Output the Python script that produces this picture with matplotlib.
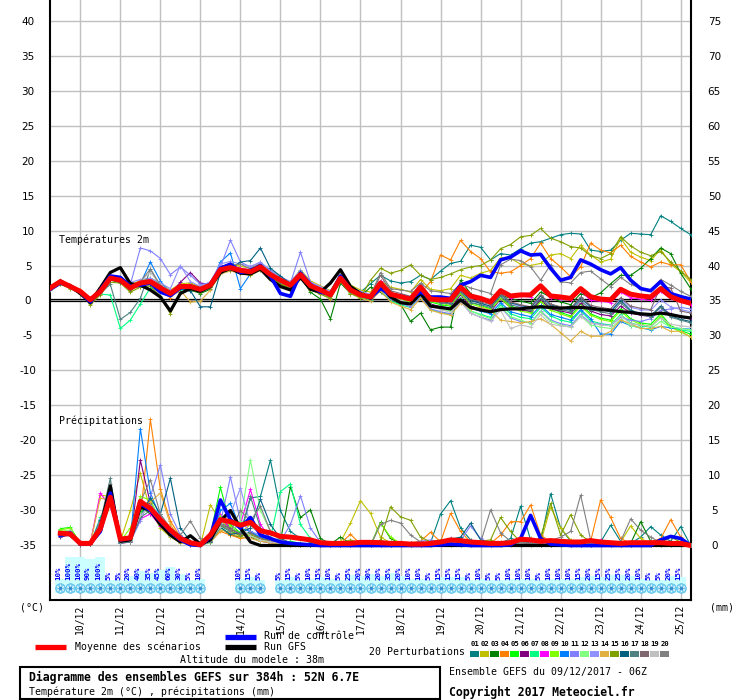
import numpy as np
import matplotlib
matplotlib.use('Agg')
import matplotlib.pyplot as plt
from matplotlib.lines import Line2D
from matplotlib.patches import Rectangle

# ---------------- data ----------------
lead_hours = list(range(0, 385, 6))
date_labels = ['10/12', '11/12', '12/12', '13/12', '14/12', '15/12', '16/12', '17/12',
               '18/12', '19/12', '20/12', '21/12', '22/12', '23/12', '24/12', '25/12']
date_hours = [18, 42, 66, 90, 114, 138, 162, 186, 210, 234, 258, 282, 306, 330, 354, 378]
left_ticks = [40, 35, 30, 25, 20, 15, 10, 5, 0, -5, -10, -15, -20, -25, -30, -35]
left_labels = ['40', '35', '30', '25', '20', '15', '10', '5', '0', '-5', '-10', '-15', '-20', '-25', '-30', '-35']
right_labels = ['75', '70', '65', '60', '55', '50', '45', '40', '35', '30', '25', '20', '15', '10', '5', '0']
precip_zero_level = -35

member_names = ['01', '02', '03', '04', '05', '06', '07', '08', '09', '10',
                '11', '12', '13', '14', '15', '16', '17', '18', '19', '20']
member_colors = ['#008080', '#c0c000', '#008000', '#ff8000', '#00ff00', '#800080', '#00ff80', '#ff00ff',
                 '#80ff00', '#0080ff', '#8080ff', '#80ff80', '#9090ff', '#e0b040', '#80a000', '#006080',
                 '#508080', '#806870', '#c0c0c0', '#808080']

mean_t = [1.8,2.7,2.0,1.3,0.1, 1.3,3.2,2.9,1.8,2.5, 2.7,1.8,1.0,2.0,2.0, 1.6,2.2,4.4,4.7,4.3, 4.1,4.8,3.7,2.9,2.2, 3.7,2.1,1.5,0.8,3.2, 1.5,0.8,0.5,
          2.5,0.9,0.55,0.2,1.9, 0.2,0.1,0.1,1.9,0.65, 0.3,-0.2,1.4,0.65,0.8, 0.8,2.1,0.65,0.5,0.3, 1.7,0.55,0.2,0.1,1.6, 0.9,0.65,0.5,1.7,0.55, 0.0,-0.4]
ctrl_t = [1.6,2.5,2.1,1.2,-0.2, 1.5,3.5,3.3,2.0,2.2, 2.5,1.2,0.7,1.8,2.1, 1.5,2.3,4.6,5.2,4.0, 4.3,5.0,3.5,1.0,0.6, 3.9,2.3,1.2,0.9,3.5, 1.5,0.9,0.4,
          1.7,0.9,0.6,0.3,1.2, 0.5,0.5,0.3,2.2,2.7, 3.6,3.3,5.8,6.2,7.1, 6.5,6.6,4.6,2.9,3.3, 5.8,5.2,4.4,3.8,4.7, 2.9,1.7,1.4,2.7,1.0, 0.55,0.2]
gfs_t = [1.7,2.8,2.0,1.0,-0.3, 1.8,4.0,4.7,2.4,2.2, 1.5,0.5,-1.5,1.0,1.7, 1.3,2.0,4.0,4.6,3.9, 3.8,4.5,3.0,2.0,1.5, 3.3,1.6,1.2,2.5,4.4, 2.0,1.0,0.3,
         2.2,0.5,-0.3,-0.5,1.0, -0.8,-1.0,-1.2,0.1,-1.0, -1.35,-1.6,-1.3,-1.2,-1.2, -1.0,-0.9,-1.0,-1.1,-1.0, -1.0,-1.1,-1.3,-1.4,-1.6, -1.7,-1.9,-2.0,-1.8,-2.0, -2.3,-2.5]

t01 = [1.7,2.6,1.9,1.2,-0.3, 1.0,3.0,2.7,1.5,2.6, 3.0,2.2,1.2,2.3,2.2, 1.5,2.0,4.2,4.9,4.6, 4.3,5.2,4.0,3.1,2.6, 4.2,2.4,1.8,1.0,3.6, 1.9,1.2,2.4,
       3.6,2.8,2.5,2.7,3.6, 3.0,4.2,5.3,5.6,7.9, 7.6,5.8,6.7,6.5,7.4, 8.2,8.4,8.9,9.4,9.6, 9.5,7.2,7.0,7.2,8.6, 9.6,9.5,9.4,12.1,11.3, 10.3,9.4]
t02 = [1.9,2.8,2.1,1.4,0.3, 1.6,3.6,3.4,2.3,2.8, 3.2,2.4,1.5,2.4,2.5, 2.0,2.6,4.8,5.3,4.9, 4.6,5.3,4.2,3.3,2.6, 4.4,2.8,2.1,1.4,3.8, 2.2,1.5,1.2,
       2.8,1.9,1.6,1.2,3.0, 1.6,1.4,1.7,3.6,3.2, 3.9,4.3,6.1,6.0,5.2, 5.0,5.3,6.5,6.7,6.0, 7.9,6.5,5.5,5.9,8.9, 6.9,6.2,5.7,7.3,5.2, 4.1,2.6]
t03 = [1.6,2.5,1.8,1.1,-0.4, 1.0,2.9,2.6,1.6,2.2, 2.6,1.6,0.6,1.6,1.5, 1.0,1.6,4.0,4.3,4.0, 3.8,4.5,3.3,2.4,1.6, 3.4,1.2,0.2,-2.6,2.5, 1.0,0.6,1.9,
       1.2,0.1,-0.5,-3.0,-1.8, -4.2,-3.8,-3.8,2.9,1.0, 0.2,-0.5,0.8,0.3,-0.1, -0.4,1.2,0.5,-0.2,-0.6, 1.0,0.4,1.1,2.4,3.6, 3.6,4.6,6.0,7.5,6.7, 3.9,1.7]
t04 = [1.8,2.9,2.2,1.5,0.2, 1.9,3.4,2.8,1.4,2.3, 2.4,1.5,0.4,1.9,2.0, 1.9,2.6,4.5,4.6,4.1, 3.9,4.7,3.5,2.5,1.9, 3.4,1.8,1.3,0.6,3.0, 1.2,0.6,0.0,
       1.8,0.5,0.7,0.2,1.0, 2.7,6.5,5.8,8.6,7.0, 6.0,4.1,3.9,4.1,5.0, 6.0,8.2,6.0,4.8,3.4, 4.8,8.2,7.2,6.8,7.9, 6.3,5.5,4.8,5.5,5.1, 5.1,2.7]
t05 = [1.7,2.6,2.0,1.3,0.0, 1.2,3.1,2.8,1.9,2.6, 2.8,2.0,1.3,2.1,2.3, 1.8,2.4,4.6,4.9,4.4, 4.2,4.9,3.8,3.0,2.3, 3.9,2.2,1.6,1.0,3.3, 1.6,1.0,0.7,
       2.3,0.8,0.3,-0.3,1.5, -0.2,-0.6,-0.8,1.2,-0.3, -0.7,-1.2,0.6,-0.8,-1.3, -1.6,0.0,-1.1,-1.7,-2.2, -0.5,-1.9,-2.5,-2.8,-1.2, -2.6,-3.2,-3.4,-1.9,-3.6, -4.3,-4.8]
t06 = [1.8,2.7,2.0,1.2,0.0, 1.4,3.3,3.0,1.7,2.4, 2.9,2.1,1.0,2.6,4.0, 2.5,2.3,4.9,5.1,4.5, 4.2,4.9,3.6,2.8,2.0, 3.6,2.0,1.4,0.7,3.1, 1.3,0.7,0.3,
       2.0,0.6,0.1,-0.4,1.4, -0.5,-0.9,-1.1,0.8,-0.8, -1.2,-1.6,0.2,-1.0,-1.4, -1.5,0.1,-1.2,-1.5,-1.8, -0.4,-1.5,-2.0,-2.2,-0.8, -1.8,-2.1,-2.3,-0.9,-2.0, -2.4,-2.6]
t07 = [1.7,2.6,1.9,1.2,0.2, 0.9,0.8,-4.0,-2.8,-0.5, 1.8,1.3,0.8,1.5,1.8, 1.4,1.9,4.3,4.6,4.1, 3.9,4.6,3.4,2.6,1.9, 3.5,1.8,1.1,0.4,2.9, 1.1,0.4,0.1,
       1.5,-0.1,-0.6,-1.0,0.6, -1.3,-1.7,-2.0,0.0,-1.5, -2.0,-2.4,-0.6,-1.9,-2.4, -2.6,-1.0,-2.2,-2.8,-3.1, -1.5,-2.9,-3.3,-3.5,-2.0, -3.2,-3.6,-3.8,-2.4,-3.9, -4.2,-4.4]
t08 = [1.8,2.7,2.1,1.4,0.3, 1.5,3.4,3.1,2.0,2.7, 3.0,2.2,1.3,2.2,2.1, 1.7,2.3,4.8,5.0,4.6, 4.4,5.0,3.9,3.1,2.4, 4.0,2.3,1.7,1.1,3.4, 1.7,1.1,0.8,
       2.8,1.0,0.7,0.3,2.1, 0.4,0.2,0.2,1.9,0.5, 0.2,-0.3,1.5,0.3,0.6, 0.5,2.0,0.4,0.2,0.1, 1.4,0.0,-0.1,-0.3,1.2, 0.4,0.2,0.0,1.3,0.3, -0.2,-0.6]
t09 = [1.6,2.6,2.0,1.3,0.1, 1.3,3.2,3.0,2.0,2.5, 2.6,1.8,1.2,2.1,2.0, 1.8,2.5,4.6,4.7,4.2, 4.0,4.8,3.7,2.9,2.1, 3.6,2.0,1.5,0.9,3.2, 1.4,0.7,0.4,
       2.1,0.7,0.2,-0.2,1.5, -0.1,-0.4,-0.7,1.0,-0.5, -0.9,-1.3,0.3,-1.0,-1.5, -1.8,-0.2,-1.4,-1.9,-2.4, -0.8,-2.1,-2.7,-3.0,-1.5, -2.8,-3.4,-3.7,-2.2,-3.8, -4.5,-5.2]
t10 = [1.7,2.6,2.0,1.2,-0.1, 1.2,3.1,3.0,1.8,2.4, 5.5,2.8,1.0,1.9,1.9, 1.6,2.2,5.5,6.8,1.7, 3.8,4.6,3.5,2.8,2.1, 3.7,2.1,1.5,0.8,3.1, 1.4,0.7,0.3,
       1.9,0.4,-0.1,-0.5,1.0, -0.7,-1.0,-1.3,0.4,-1.1, -1.5,-1.9,-0.3,-1.6,-2.0, -2.3,-0.7,-2.0,-2.4,-2.8, -1.3,-2.6,-4.8,-4.8,-3.0, -3.6,-3.9,-4.2,-3.7,-3.9, -4.0,-4.1]
t11 = [1.8,2.6,1.9,1.3,0.0, 1.4,3.3,3.0,2.3,7.5, 7.1,6.0,3.7,4.8,3.6, 2.3,2.5,4.8,8.6,5.5, 4.8,5.5,4.2,3.2,2.5, 6.9,2.6,1.8,1.2,3.7, 1.8,1.0,0.6,
       1.6,0.2,-0.4,-0.9,0.5, -1.2,-1.6,-1.9,-0.2,-1.8, -2.4,-2.8,-1.0,-2.5,-3.0, -3.2,-1.5,-2.8,-3.3,-3.6, -2.0,-3.2,-3.4,-3.6,-2.4, -2.8,-3.0,-2.6,-1.4,-1.2, -1.0,-1.2]
t12 = [1.7,2.7,2.0,1.3,0.1, 1.4,3.2,2.9,1.9,2.4, 2.6,1.7,1.1,1.9,1.9, 1.5,2.1,4.3,4.6,4.2, 4.0,4.7,3.6,2.8,2.1, 3.6,2.0,1.4,0.7,3.1, 1.4,0.7,0.4,
       2.0,0.5,0.0,-0.4,1.2, -0.6,-1.2,-1.5,0.3,-1.5, -2.1,-2.6,-0.9,-2.3,-2.8, -3.3,-1.6,-3.0,-3.5,-3.8, -2.2,-3.5,-3.8,-4.0,-2.7, -3.6,-3.9,-4.1,-3.0,-3.8, -4.0,-4.2]
t13 = [1.9,2.8,2.1,1.4,0.2, 1.6,3.5,3.2,2.6,3.0, 3.2,2.5,1.7,5.0,2.7, 2.0,2.7,5.2,5.6,5.2, 4.9,5.4,4.4,3.4,2.7, 4.3,2.6,2.0,1.3,3.6, 1.9,1.3,0.9,
       2.6,1.1,0.8,0.4,2.2, 0.2,-0.3,-0.5,1.4,0.0, -0.4,-0.9,0.9,-0.4,-0.8, -1.1,0.6,-0.7,-1.1,-1.4, 0.3,-1.0,-1.3,-1.5,0.2, -1.0,-1.3,-1.4,0.1,-0.9, -1.3,-1.6]
t14 = [1.6,2.4,1.8,1.1,-0.5, 1.0,3.0,2.7,1.6,2.0, 2.3,1.4,0.6,1.4,-0.2, -0.1,1.5,3.8,4.2,3.9, 3.6,4.3,3.2,2.3,1.5, 3.2,1.6,1.0,0.2,2.8, 1.0,0.3,-0.1,
       1.4,-0.2,-0.8,-1.3,0.3, -1.4,-1.8,-2.1,-0.4,-1.2, -1.0,-1.4,-2.8,-3.0,-3.2, -3.0,-2.6,-3.4,-4.6,-5.8, -4.4,-5.1,-5.1,-4.4,-2.8, -3.3,-4.0,-4.0,-3.7,-4.4, -4.4,-5.2]
t15 = [1.5,2.3,1.7,1.0,-0.6, 0.8,2.6,2.5,1.2,1.9, 2.1,0.6,-1.9,1.2,1.5, 1.2,1.9,4.0,4.4,3.9, 3.6,4.4,3.3,2.4,1.7, 3.5,1.5,0.9,0.3,2.9, 1.0,0.4,2.9,
       4.6,3.9,4.3,5.1,3.6, 3.0,3.3,3.8,4.4,4.8, 5.0,5.8,7.4,8.0,9.1, 9.3,10.3,8.9,8.4,7.7, 7.5,6.4,6.0,6.7,9.1, 7.8,6.9,6.4,7.0,5.5, 4.2,3.0]
t16 = [1.7,2.5,1.9,1.2,-0.2, 1.2,3.0,2.6,1.7,2.3, 2.4,1.5,0.8,1.7,1.4, -0.9,-0.9,4.0,4.5,5.5, 5.7,7.5,4.6,3.5,2.4, 4.1,2.2,1.5,0.9,3.4, 1.6,0.9,0.5,
       2.2,0.8,0.4,0.0,1.8, 0.2,-0.1,-0.4,1.5,0.0, -0.4,-0.8,0.9,-0.3,-0.7, -1.0,0.7,-0.6,-1.0,-1.3, 0.4,-0.9,-1.3,-1.6,0.0, -1.4,-1.9,-2.2,-0.8,-2.2, -2.7,-3.0]
t17 = [1.8,2.6,1.9,1.2,-0.1, 1.1,2.3,-2.7,-1.7,0.3, 4.5,2.0,1.0,1.7,1.9, 1.5,2.0,4.1,4.5,4.2, 4.0,4.6,3.5,2.6,2.0, 3.4,1.9,1.3,0.6,3.0, 1.3,0.6,0.2,
       2.4,1.0,0.5,0.1,1.6, 0.0,-0.3,-0.5,1.2,-0.3, -0.6,-1.0,0.6,-0.6,-1.0, -1.3,0.3,-0.9,-1.3,-1.6, 0.0,-1.3,-1.6,-1.9,-0.3, -1.6,-2.0,-2.3,-1.0,-2.4, -2.8,-3.2]
t18 = [1.8,2.8,2.1,1.4,0.1, 1.5,3.4,3.1,2.0,2.6, 2.8,1.9,1.1,2.0,2.1, 1.7,2.4,4.5,4.8,4.4, 4.2,4.9,3.8,3.0,2.3, 3.8,2.2,1.6,0.9,3.3, 1.6,0.9,0.6,
       3.6,1.4,1.0,0.6,2.4, 0.5,0.2,-0.1,1.6,0.2, -0.2,-0.6,1.0,-0.2,-0.6, -0.9,0.8,-0.5,-0.9,-1.1, 0.5,-0.7,-1.0,-1.2,0.4, -0.8,-1.1,-1.3,2.0,1.8, -1.5,-1.8]
t19 = [1.7,2.6,2.0,1.3,0.0, 1.3,3.3,3.2,2.1,2.8, 4.0,2.3,1.2,2.0,2.1, 1.7,2.2,4.4,4.8,4.4, 4.3,4.9,3.9,3.1,2.4, 3.8,2.2,1.6,1.0,3.3, 1.6,0.9,0.6,
       2.1,0.5,0.0,-0.5,1.0, -0.8,-1.3,-1.7,-0.1,-1.8, -2.4,-3.0,-1.4,-4.0,-3.5, -3.8,-2.0,-3.4,-3.6,-3.8, -2.3,-3.2,-3.5,-3.6,-2.2, -3.3,-3.5,-3.7,-2.5,-3.4, -3.6,-3.8]
t20 = [1.8,2.7,2.1,1.4,0.2, 1.4,3.3,3.0,2.1,2.7, 4.5,2.2,1.1,2.1,2.2, 1.8,2.5,4.7,5.0,5.2, 4.5,5.0,3.8,3.0,2.3, 3.8,2.2,1.6,0.9,3.5, 1.7,1.0,0.7,
       4.0,1.7,1.5,1.3,2.5, 1.4,1.2,1.0,2.4,1.8, 1.4,1.0,5.1,5.9,5.7, 4.8,2.9,5.1,2.7,2.5, 4.0,4.2,3.1,2.0,3.3, 2.3,1.8,1.5,3.0,2.2, 1.3,0.6]

mean_p = [None, 1.75,1.65,0.3,0.3, 2.4,6.9,0.9,1.1,6.3, 5.3,3.7,2.2,1.0,0.4, 0.1,1.5,3.7,3.4,2.9, 3.3,2.1,1.8,1.3,1.2, 1.0,0.8,0.4,0.3,0.3, 0.3,0.45,0.45,
          0.4,0.3,0.3,0.2,0.2, 0.3,0.5,0.8,0.7,0.5, 0.4,0.3,0.3,0.4,0.9, 0.8,0.6,0.7,0.6,0.5, 0.5,0.7,0.5,0.4,0.3, 0.4,0.4,0.4,0.4,0.3, 0.3,0.0]
ctrl_p = [None, 1.5,1.8,0.2,0.3, 2.0,7.5,0.8,1.0,6.0, 5.0,3.5,2.0,0.8,0.1, 0.0,1.2,6.5,3.7,2.5, 4.0,1.5,1.0,0.5,0.3, 0.2,0.1,0.0,0.0,0.0, 0.0,0.0,0.0,
          0.0,0.0,0.0,0.0,0.0, 0.0,0.1,0.2,0.1,0.0, 0.0,0.0,0.0,0.1,1.0, 4.3,1.0,0.2,0.1,0.0, 0.0,0.0,0.0,0.0,0.0, 0.0,0.0,0.0,0.8,1.3, 1.0,0.0]
gfs_p = [None, 1.8,1.5,0.2,0.3, 2.5,8.5,0.6,0.8,5.5, 5.0,3.0,1.5,0.5,1.4, 0.2,0.8,3.5,5.0,2.5, 0.5,0.0,0.0,0.0,0.0, 0.0,0.0,0.0,0.0,0.0, 0.0,0.0,0.0,
         0.0,0.0,0.0,0.0,0.0, 0.0,0.0,0.0,0.0,0.0, 0.0,0.0,0.0,0.0,0.0, 0.0,0.0,0.0,0.0,0.0, 0.0,0.0,0.0,0.0,0.0, 0.0,0.0,0.0,0.0,0.0, 0.0,0.0]

p01 = [None, 1.6,1.9,0.2,0.2, 3.5,7.5,0.5,0.7,5.0, 6.0,3.0,1.5,0.5,0.1, 0.0,0.8,2.8,2.0,1.5, 6.8,7.0,12.2,5.0,2.0, 1.0,0.5,0.2,0.0,0.0, 0.0,0.2,0.3,
       0.6,0.3,0.2,0.1,0.2, 0.4,4.5,6.4,2.5,0.8, 0.4,0.2,0.3,1.0,5.6, 0.8,0.5,7.4,2.5,0.6, 0.3,0.8,0.5,2.9,0.6, 0.3,1.2,2.7,1.5,0.6, 2.7,0.0]
p02 = [None, 2.0,2.2,0.3,0.3, 7.2,7.0,0.6,5.0,10.3, 5.0,2.5,1.2,0.4,0.1, 0.0,5.8,3.5,2.5,1.8, 3.0,1.5,1.0,0.5,0.3, 0.2,0.1,0.0,0.0,0.5, 3.2,6.4,4.6,
       1.2,0.4,0.2,0.0,0.1, 0.2,0.3,0.5,0.4,0.2, 0.1,0.3,0.5,0.3,0.8, 1.0,0.4,5.5,2.5,0.8, 0.3,0.3,0.2,0.4,0.5, 2.8,1.0,0.3,0.2,0.1, 0.2,0.0]
p03 = [None, 1.7,1.8,0.2,0.3, 2.5,6.2,0.4,0.6,5.5, 4.5,3.8,2.0,0.8,0.2, 0.1,0.8,2.5,1.5,1.2, 2.0,1.0,0.8,0.6,8.4, 4.0,5.1,1.0,0.2,1.2, 0.3,0.0,0.0,
       3.3,1.0,0.3,0.1,0.0, 0.0,0.2,0.1,0.0,0.0, 0.0,0.1,0.2,0.0,0.0, 0.1,0.0,0.2,0.0,0.0, 0.1,0.0,0.0,0.0,0.2, 0.3,3.4,0.6,0.2,0.3, 0.0,0.0]
p04 = [None, 1.8,2.0,0.3,0.3, 3.0,6.8,0.7,0.9,4.0, 18.0,8.0,3.5,1.2,0.3, 0.1,0.5,2.0,1.5,1.0, 1.2,0.8,0.6,0.3,0.2, 0.1,0.0,0.0,0.0,0.3, 1.6,0.2,0.1,
       0.1,0.0,0.2,0.4,0.6, 1.9,0.5,4.6,2.0,0.5, 0.2,0.3,1.5,3.4,3.4, 5.8,1.5,0.5,0.3,0.2, 0.4,0.6,6.5,4.0,1.0, 0.3,0.2,0.5,1.0,3.7, 1.2,0.0]
p05 = [None, 2.4,2.6,0.3,0.4, 2.8,6.0,0.5,0.8,4.8, 5.5,3.0,1.5,0.6,0.2, 0.0,1.5,8.3,3.0,1.8, 1.5,0.8,0.5,0.4,0.6, 0.3,0.2,0.0,0.0,0.2, 0.1,0.0,0.0,
       0.4,0.3,0.1,0.0,0.1, 0.2,0.3,0.5,0.3,0.1, 0.0,0.0,0.1,0.2,0.3, 0.2,0.1,0.1,0.0,0.0, 0.0,0.1,0.2,0.1,0.0, 0.0,0.1,0.0,0.2,0.1, 0.0,0.0]
p06 = [None, 1.2,1.5,0.1,0.2, 3.5,7.2,0.3,0.5,12.2, 6.0,3.5,1.8,0.6,0.1, 0.0,0.6,4.0,2.5,1.6, 1.2,0.6,0.4,0.2,0.1, 0.1,0.0,0.0,0.0,0.0, 0.1,0.0,0.0,
       0.2,0.1,0.0,0.3,0.5, 0.3,0.2,0.8,0.6,0.3, 0.2,0.1,0.2,0.4,0.3, 0.2,0.1,0.0,0.1,0.0, 0.0,0.0,0.1,0.2,0.0, 0.0,0.1,0.0,0.0,0.0, 0.0,0.0]
p07 = [None, 1.6,1.9,0.2,0.2, 4.0,6.5,0.4,0.6,6.5, 5.0,3.2,1.7,0.8,0.2, 0.0,0.6,3.0,2.0,1.5, 1.8,1.2,1.0,7.7,8.8, 3.0,1.0,0.3,0.0,0.1, 0.0,0.0,0.0,
       0.3,0.2,0.1,0.0,0.2, 0.3,0.6,0.9,0.5,0.2, 0.1,0.0,0.1,0.3,0.4, 0.2,0.1,0.2,0.1,0.0, 0.0,0.1,0.3,0.2,0.1, 0.0,0.0,0.1,0.0,0.0, 0.1,0.0]
p08 = [None, 1.5,1.7,0.2,0.3, 7.5,5.5,0.8,0.6,3.8, 4.5,2.8,1.4,0.5,0.1, 0.0,0.5,4.5,2.2,3.0, 8.0,3.0,1.0,0.4,0.2, 0.1,0.0,0.0,0.0,0.0, 0.1,0.0,0.0,
       0.2,0.1,0.0,0.1,0.2, 0.4,0.3,0.7,0.5,0.2, 0.1,0.1,0.2,0.5,0.6, 0.4,0.2,0.1,0.1,0.0, 0.0,0.2,0.8,0.3,0.1, 0.0,0.0,0.1,0.2,0.1, 0.0,0.0]
p09 = [None, 2.2,2.5,0.3,0.3, 2.2,5.8,0.6,2.5,7.0, 6.5,3.5,1.6,0.7,0.2, 0.0,0.9,4.2,2.8,1.5, 1.3,0.7,0.5,0.3,0.2, 0.1,0.0,0.0,0.0,0.0, 0.0,0.0,0.0,
       3.2,1.2,0.3,0.1,0.2, 0.1,0.2,0.4,0.2,0.1, 0.0,0.0,0.1,0.2,0.3, 0.1,0.0,0.1,0.0,0.0, 0.0,0.0,0.1,0.0,0.0, 0.0,0.0,0.1,0.0,0.0, 0.0,0.0]
p10 = [None, 1.8,2.1,0.2,0.2, 3.3,7.0,0.5,0.7,16.7, 7.5,4.0,2.0,0.7,0.2, 0.0,1.0,5.0,6.0,2.5, 2.0,1.2,0.8,0.4,0.2, 0.1,0.0,0.0,0.0,0.0, 0.0,0.1,0.0,
       0.2,0.1,0.0,0.0,0.1, 0.2,0.4,0.8,0.5,0.2, 0.1,0.1,0.2,0.4,0.5, 0.7,0.3,0.1,0.0,0.0, 0.0,0.1,0.3,0.2,0.1, 0.0,0.0,0.0,0.1,0.2, 0.1,0.0]
p11 = [None, 1.4,1.6,0.2,0.2, 3.8,6.0,0.4,0.6,3.5, 7.0,11.5,4.5,1.5,0.4, 0.1,0.7,3.2,9.8,3.5, 2.0,1.5,1.0,0.6,3.0, 7.1,2.5,0.4,0.0,0.0, 0.1,0.0,0.0,
       0.1,0.0,0.1,0.2,0.6, 0.8,0.5,0.9,0.7,2.8, 1.0,0.3,0.2,0.4,0.3, 0.2,0.1,0.1,0.0,0.1, 0.0,0.1,0.2,0.3,0.1, 0.0,0.0,0.2,0.4,0.3, 0.1,0.0]
p12 = [None, 1.9,2.2,0.3,0.3, 2.6,6.3,0.6,0.8,4.6, 5.2,3.3,1.4,0.5,0.1, 0.0,0.4,2.4,1.8,3.5, 12.2,5.0,2.0,0.6,0.3, 0.2,0.1,0.0,0.0,0.0, 0.0,0.0,0.0,
       0.3,0.2,0.1,0.1,0.2, 0.2,0.4,0.6,0.4,0.2, 0.1,0.1,0.1,0.2,0.3, 0.1,0.1,0.0,0.0,0.0, 0.0,0.1,0.2,0.1,0.0, 0.0,0.0,0.0,0.1,0.0, 0.0,0.0]
p13 = [None, 1.5,1.8,0.2,0.2, 3.1,6.6,0.5,0.7,6.0, 5.8,4.2,2.2,0.9,0.3, 0.0,0.9,3.8,4.5,8.2, 3.0,1.5,0.8,0.4,0.2, 0.1,0.0,0.0,0.0,0.0, 0.0,0.0,0.0,
       0.2,0.1,0.0,0.1,0.3, 0.5,0.6,1.0,0.7,0.5, 0.3,0.2,0.2,0.3,0.4, 0.3,0.2,0.1,0.0,0.0, 0.0,0.2,0.4,0.2,0.1, 0.0,0.0,0.1,0.5,0.3, 0.1,0.0]
p14 = [None, 1.9,2.0,0.3,0.3, 6.8,6.4,0.7,1.2,5.8, 6.2,7.5,3.0,1.0,0.3, 0.0,0.5,2.2,1.8,1.2, 1.0,0.6,0.4,0.2,0.1, 0.1,0.0,0.0,0.0,0.0, 0.1,0.0,0.0,
       0.3,0.2,0.1,0.0,0.1, 0.2,0.3,0.5,0.3,0.1, 0.1,0.0,0.1,0.2,0.2, 0.1,0.0,0.0,0.0,0.0, 0.0,0.0,0.1,0.0,0.0, 0.0,0.0,0.0,0.0,0.0, 0.0,0.0]
p15 = [None, 1.7,1.9,0.2,0.3, 2.9,6.9,0.6,0.9,5.2, 5.6,3.6,1.8,0.7,0.2, 0.0,0.7,2.9,2.1,1.4, 1.6,0.9,0.6,0.3,0.2, 0.1,0.1,0.0,0.0,0.3, 0.8,0.4,0.2,
       0.8,5.5,4.1,3.6,1.2, 0.5,0.8,0.6,0.4,0.3, 0.6,0.8,4.0,2.0,0.5, 0.3,1.2,6.0,1.5,4.4, 1.5,0.5,0.3,0.2,0.4, 0.3,0.2,0.3,0.4,1.2, 0.5,0.0]
p16 = [None, 1.3,1.6,0.2,0.2, 3.6,8.0,0.5,0.6,4.2, 6.8,4.5,9.6,2.5,0.6, 0.1,0.5,2.6,1.6,1.8, 2.5,6.6,3.0,1.0,0.4, 0.2,0.1,0.0,0.0,0.0, 0.0,0.0,0.0,
       0.1,0.0,0.0,0.1,0.2, 0.3,0.5,0.9,1.2,3.2, 0.8,0.3,0.2,0.4,0.5, 0.3,0.1,0.1,0.0,0.1, 0.0,0.1,0.2,0.1,0.0, 0.0,0.1,0.0,0.3,0.2, 0.1,0.0]
p17 = [None, 1.6,1.8,0.2,0.2, 3.4,9.6,0.4,0.5,4.0, 5.0,3.0,1.5,0.6,0.2, 0.0,0.6,3.3,2.4,1.7, 7.0,2.5,1.0,0.5,0.2, 0.1,0.0,0.0,0.0,0.0, 0.0,0.0,0.0,
       0.2,0.1,0.0,0.1,0.2, 0.3,0.4,0.6,0.4,0.2, 0.1,0.1,0.2,0.3,0.3, 0.2,0.1,0.0,0.0,0.0, 0.1,0.1,0.3,0.2,0.0, 0.0,0.0,0.1,0.3,0.4, 0.1,0.0]
p18 = [None, 1.7,2.0,0.2,0.3, 3.0,7.2,0.6,0.7,5.5, 5.3,3.4,1.7,0.7,0.2, 0.0,0.7,3.1,2.3,1.6, 1.8,1.0,0.7,0.4,0.2, 0.1,0.0,0.0,0.0,0.0, 0.0,0.0,0.0,
       0.2,0.2,0.1,0.1,0.2, 0.3,0.4,0.7,0.5,0.3, 0.2,0.1,0.2,0.3,0.4, 0.2,0.1,0.1,0.0,0.0, 0.0,0.1,0.3,0.2,0.1, 0.0,0.0,0.1,0.2,0.3, 0.1,0.0]
p19 = [None, 1.8,2.1,0.3,0.3, 3.2,6.0,0.5,0.7,4.4, 5.4,3.1,1.4,0.5,0.2, 0.0,0.6,2.7,4.8,2.5, 1.4,0.8,0.5,0.3,0.2, 0.1,0.0,0.0,0.0,0.0, 0.0,0.0,0.0,
       0.1,0.0,0.0,0.0,0.1, 0.2,0.3,0.4,0.3,0.1, 0.0,0.0,0.1,0.1,0.2, 0.1,0.0,0.0,0.0,0.0, 0.0,0.0,0.1,0.0,0.0, 0.0,0.0,0.0,0.0,0.0, 0.0,0.0]
p20 = [None, 1.7,1.9,0.2,0.2, 3.4,8.8,0.6,0.8,6.2, 9.4,4.5,2.5,1.5,3.5, 1.0,0.6,3.0,2.0,5.0, 3.5,5.6,2.0,0.8,0.4, 0.2,0.1,0.0,0.0,0.0, 0.1,0.0,0.0,
       3.0,3.6,3.2,1.5,0.5, 0.3,0.4,0.7,0.5,0.3, 0.4,5.1,1.8,0.6,0.5, 0.3,0.2,0.7,1.2,2.0, 7.2,0.8,0.4,0.3,0.6, 3.8,2.2,1.2,0.4,0.3, 0.2,0.0]

snow_pct = [None, 10,100,100,90,100, 5,5,20,40,35, 45,60,30,5,10, None,None,None,10,15, 5,None,5,15,5,
            10,15,10,5,25, 20,30,20,35,20, 10,10,5,15,15, 15,5,10,5,5, 10,10,10,5,10,
            10,10,15,20,15, 25,25,20,10,5, 5,20,15,None]

member_t = [t01, t02, t03, t04, t05, t06, t07, t08, t09, t10, t11, t12, t13, t14, t15, t16, t17, t18, t19, t20]
member_p = [p01, p02, p03, p04, p05, p06, p07, p08, p09, p10, p11, p12, p13, p14, p15, p16, p17, p18, p19, p20]

for s in member_t + member_p + [mean_t, ctrl_t, gfs_t, mean_p, ctrl_p, gfs_p, snow_pct]:
    assert len(s) == len(lead_hours), len(s)

# ---------------- figure ----------------
W, H = 740, 700
MONO = 'DejaVu Sans Mono'
plt.rcParams['font.family'] = ['DejaVu Sans Mono', 'DejaVu Sans']

def fx(x):
    return x / W

def fy(y):
    return 1 - y / H

fig = plt.figure(figsize=(W / 100, H / 100), dpi=100)
fig.patch.set_facecolor('white')
ax = fig.add_axes([fx(50.3), fy(600.3), (690.7 - 50.3) / W, 600.3 / H])
ax.set_xlim(0, 384)
ax.set_ylim(-42.83, 42.93)

grid_c = '#c0c0c0'
for v in left_ticks:
    ax.axhline(v, color=grid_c, lw=1.0, zorder=0)
for h in date_hours:
    ax.axvline(h, color=grid_c, lw=1.0, zorder=0)
ax.axhline(0.2, color='black', lw=0.9, zorder=2)
ax.axhline(-0.13, color='black', lw=0.9, zorder=2)

hours = np.array(lead_hours, dtype=float)

# temperature members
for t, c in zip(member_t, member_colors):
    ax.plot(hours, t, color=c, lw=0.8, marker='+', ms=2.8, mew=0.6, zorder=3)
ax.plot(hours, gfs_t, color='black', lw=2.3, zorder=4)
ax.plot(hours, ctrl_t, color='#0000ff', lw=2.6, zorder=5)
ax.plot(hours, mean_t, color='#ff0000', lw=3.6, zorder=6)

# precipitation members
for p, c in zip(member_p, member_colors):
    pv = np.array(p, dtype=float) + precip_zero_level
    ax.plot(hours, pv, color=c, lw=0.8, marker='+', ms=2.8, mew=0.6, zorder=3)
ax.plot(hours, np.array(gfs_p, dtype=float) + precip_zero_level, color='black', lw=2.3, zorder=4)
ax.plot(hours, np.array(ctrl_p, dtype=float) + precip_zero_level, color='#0000ff', lw=2.6, zorder=5)
ax.plot(hours, np.array(mean_p, dtype=float) + precip_zero_level, color='#ff0000', lw=3.6, zorder=6)

# snow probability row
for h, p in zip(lead_hours, snow_pct):
    if p is None:
        continue
    top = -40.07 + 0.0343 * p
    ax.add_patch(Rectangle((h - 3, -41.85), 6, top + 41.85, facecolor='#ccffff',
                           edgecolor='none', zorder=1.5))
    ax.text(h - 1.4, -39.9, f'{p}%', rotation=90, ha='center', va='bottom',
            color='#0000ff', fontsize=5.3, fontweight='bold', family=MONO, zorder=3)
snow_h = [h for h, p in zip(lead_hours, snow_pct) if p is not None]
snow_y = [-41.1] * len(snow_h)
ax.scatter(snow_h, snow_y, s=48, marker='o', facecolor='#7fd3f2', edgecolor='#55b8e8',
           linewidths=0.5, zorder=2)
ax.scatter(snow_h, snow_y, s=22, marker=(6, 2, 0), color='#e8f8ff', linewidths=0.7, zorder=2.1)
ax.scatter(snow_h, snow_y, s=3, marker='o', color='#3a8fd0', zorder=2.2)

# axes styling
for side in ['left', 'right', 'bottom']:
    ax.spines[side].set_color('black')
    ax.spines[side].set_linewidth(1.5)
ax.spines['top'].set_visible(False)
ax.set_yticks(left_ticks)
ax.set_yticklabels(left_labels, family='DejaVu Sans', fontsize=7.5)
ax.tick_params(axis='y', length=0, pad=16)
for lab in ax.get_yticklabels():
    lab.set_horizontalalignment('center')
ax.set_xticks(date_hours)
ax.set_xticklabels(date_labels, rotation=90, family=MONO, fontsize=7)
ax.tick_params(axis='x', length=0, pad=3)

ax2 = ax.twinx()
ax2.set_ylim(ax.get_ylim())
ax2.set_yticks(left_ticks)
ax2.set_yticklabels(right_labels, family='DejaVu Sans', fontsize=7.5)
ax2.tick_params(axis='y', length=0, pad=17)
for lab in ax2.get_yticklabels():
    lab.set_horizontalalignment('center')
for s in ax2.spines.values():
    s.set_visible(False)

# in-plot labels
fig.text(fx(59), fy(240), 'Températures 2m', family=MONO, fontsize=7.1, va='center', ha='left')
fig.text(fx(59), fy(421), 'Précipitations', family=MONO, fontsize=7.1, va='center', ha='left')
fig.text(fx(20), fy(607), '(°C)', family=MONO, fontsize=7.1, va='center', ha='left')
fig.text(fx(710), fy(607), '(mm)', family=MONO, fontsize=7.1, va='center', ha='left')

# legend
def fline(x0, x1, y, color, lw):
    fig.add_artist(Line2D([fx(x0), fx(x1)], [fy(y), fy(y)], color=color, lw=lw,
                          transform=fig.transFigure, solid_capstyle='butt'))

fline(35, 66, 647, '#ff0000', 3.8)
fig.text(fx(75), fy(647), 'Moyenne des scénarios', family=MONO, fontsize=7.1, va='center')
fline(225, 256, 637, '#0000ff', 3.8)
fig.text(fx(264), fy(636), 'Run de contrôle', family=MONO, fontsize=7.1, va='center')
fline(225, 256, 647, 'black', 3.8)
fig.text(fx(264), fy(647), 'Run GFS', family=MONO, fontsize=7.1, va='center')
fig.text(fx(180), fy(660), 'Altitude du modele : 38m', family=MONO, fontsize=7.1, va='center')

fig.text(fx(369), fy(652), '20 Perturbations', family=MONO, fontsize=7.1, va='center')
for k, (name, c) in enumerate(zip(member_names, member_colors)):
    x0 = 470 + 10 * k
    fig.add_artist(Rectangle((fx(x0), fy(656.5)), 9.3 / W, 6 / H, transform=fig.transFigure,
                             facecolor=c, edgecolor='none'))
    fig.text(fx(x0 + 4.8), fy(644), name, family=MONO, fontsize=5.2, fontweight='bold',
             va='center', ha='center')

fig.add_artist(Rectangle((fx(20), fy(699)), 420 / W, 32 / H, transform=fig.transFigure,
                         fill=False, edgecolor='black', lw=1.5))
fig.text(fx(29), fy(677.5), 'Diagramme des ensembles GEFS sur 384h : 52N 6.7E', family=MONO,
         fontsize=8.3, fontweight='bold', va='center')
fig.text(fx(29), fy(692), 'Température 2m (°C) , précipitations (mm)', family=MONO,
         fontsize=7.1, va='center')
fig.text(fx(449), fy(672), 'Ensemble GEFS du 09/12/2017 - 06Z', family=MONO, fontsize=7.1, va='center')
fig.text(fx(449), fy(692), 'Copyright 2017 Meteociel.fr', family=MONO, fontsize=8.3,
         fontweight='bold', va='center')

fig.savefig('out.png', dpi=100, facecolor='white')
